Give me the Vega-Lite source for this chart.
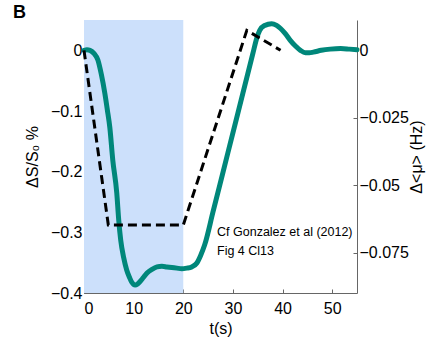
{
  "$schema": "https://vega.github.io/schema/vega-lite/v6.json",
  "width": 273,
  "height": 273,
  "autosize": {"type": "none"},
  "padding": {"left": 84, "top": 20, "right": 70, "bottom": 48},
  "title": {"text": "B", "anchor": "start", "frame": "group", "fontSize": 18, "fontWeight": "bold", "font": "Liberation Sans", "color": "#000000", "dx": -71, "dy": 20, "offset": 0, "baseline": "bottom"},
  "config": {
    "view": {"stroke": null},
    "axis": {
      "labelFont": "Liberation Sans", "labelFontSize": 16, "labelColor": "#000000",
      "titleFont": "Liberation Sans", "titleFontSize": 16, "titleFontWeight": "normal", "titleColor": "#000000",
      "domainColor": "#666666", "domainWidth": 1, "tickColor": "#666666", "tickSize": -4, "tickWidth": 1,
      "grid": false
    }
  },
  "datasets": {
    "shade": [{"t0": 0, "t1": 20}],
    "teal": [
      {"t": 0, "v": 0}, {"t": 0.6, "v": 0.001}, {"t": 1.2, "v": 0}, {"t": 2.0, "v": -0.005}, {"t": 2.8, "v": -0.016},
      {"t": 3.5, "v": -0.04}, {"t": 4.2, "v": -0.071}, {"t": 4.7, "v": -0.098}, {"t": 5.2, "v": -0.127}, {"t": 5.8, "v": -0.181},
      {"t": 6.6, "v": -0.235}, {"t": 7.0, "v": -0.28}, {"t": 7.4, "v": -0.313}, {"t": 8.0, "v": -0.342}, {"t": 8.6, "v": -0.362},
      {"t": 9.2, "v": -0.375}, {"t": 9.6, "v": -0.382}, {"t": 10.3, "v": -0.387}, {"t": 10.8, "v": -0.385}, {"t": 11.3, "v": -0.381},
      {"t": 12.0, "v": -0.374}, {"t": 12.7, "v": -0.367}, {"t": 13.7, "v": -0.361}, {"t": 14.7, "v": -0.357}, {"t": 15.7, "v": -0.356},
      {"t": 16.7, "v": -0.357}, {"t": 17.7, "v": -0.358}, {"t": 18.7, "v": -0.359}, {"t": 19.7, "v": -0.36}, {"t": 20.7, "v": -0.359},
      {"t": 21.7, "v": -0.357}, {"t": 22.7, "v": -0.351}, {"t": 23.5, "v": -0.338}, {"t": 24.3, "v": -0.321}, {"t": 26, "v": -0.266},
      {"t": 28, "v": -0.201}, {"t": 30, "v": -0.136}, {"t": 32, "v": -0.071}, {"t": 34, "v": -0.006}, {"t": 34.8, "v": 0.02},
      {"t": 35.4, "v": 0.033}, {"t": 36.4, "v": 0.041}, {"t": 37.8, "v": 0.044}, {"t": 38.8, "v": 0.041}, {"t": 39.6, "v": 0.036},
      {"t": 40.6, "v": 0.027}, {"t": 41.6, "v": 0.016}, {"t": 42.6, "v": 0.007}, {"t": 43.6, "v": 0}, {"t": 44.6, "v": -0.004},
      {"t": 45.4, "v": -0.004}, {"t": 46.2, "v": -0.003}, {"t": 47.8, "v": 0}, {"t": 49.6, "v": 0.002}, {"t": 51.7, "v": 0.003},
      {"t": 53.5, "v": 0.002}, {"t": 55, "v": 0.001}
    ],
    "dash": [
      {"t": 0, "mu": 0}, {"t": 4.9, "mu": -0.0648}, {"t": 20, "mu": -0.0648}, {"t": 32.8, "mu": 0.0074}, {"t": 39.6, "mu": 0}
    ],
    "note": [
      {"t": 26.8, "v": -0.3, "label": "Cf Gonzalez et al (2012)"},
      {"t": 26.8, "v": -0.331, "label": "Fig 4 Cl13"}
    ]
  },
  "layer": [
    {
      "layer": [
        {
          "data": {"name": "shade"},
          "mark": {"type": "rect", "fill": "#cce0fb", "stroke": null},
          "encoding": {
            "x": {"field": "t0", "type": "quantitative", "scale": {"domain": [0, 55], "nice": false},
                  "axis": {"values": [0, 10, 20, 30, 40, 50], "title": "t(s)", "labelPadding": 11, "titlePadding": 4, "orient": "bottom"}},
            "x2": {"field": "t1"}
          }
        },
        {
          "mark": {"type": "rule", "color": "#7a7a7a", "strokeWidth": 1},
          "encoding": {"x": {"datum": 20, "type": "quantitative"}}
        },
        {
          "data": {"name": "teal"},
          "mark": {"type": "line", "color": "#00877a", "strokeWidth": 5, "strokeCap": "round", "strokeJoin": "round", "interpolate": "monotone"},
          "encoding": {
            "x": {"field": "t", "type": "quantitative"},
            "y": {"field": "v", "type": "quantitative", "scale": {"domain": [-0.4, 0.05], "nice": false, "zero": false},
                  "axis": {"orient": "left", "values": [0, -0.1, -0.2, -0.3, -0.4], "format": ".1~f", "title": "ΔS/S₀ %", "labelPadding": 6, "titlePadding": 10}}
          }
        },
        {
          "mark": {"type": "rule", "color": "#000000", "strokeWidth": 2.5},
          "encoding": {"y": {"datum": 0, "type": "quantitative"}}
        },
        {
          "data": {"name": "note"},
          "mark": {"type": "text", "align": "left", "baseline": "middle", "font": "Liberation Sans", "fontSize": 12.5, "color": "#000000"},
          "encoding": {
            "x": {"field": "t", "type": "quantitative"},
            "y": {"field": "v", "type": "quantitative"},
            "text": {"field": "label", "type": "nominal"}
          }
        }
      ]
    },
    {
      "data": {"name": "dash"},
      "mark": {"type": "line", "color": "#000000", "strokeWidth": 3, "strokeDash": [9, 5]},
      "encoding": {
        "x": {"field": "t", "type": "quantitative"},
        "y": {"field": "mu", "type": "quantitative", "scale": {"domain": [-0.09, 0.01125], "nice": false, "zero": false},
              "axis": {"orient": "right", "values": [0, -0.025, -0.05, -0.075], "format": ".3~f", "title": "Δ<μ> (Hz)", "titleAngle": 270, "titleBaseline": "top", "labelPadding": 6, "titlePadding": 0}}
      }
    }
  ],
  "resolve": {"scale": {"y": "independent"}}
}
